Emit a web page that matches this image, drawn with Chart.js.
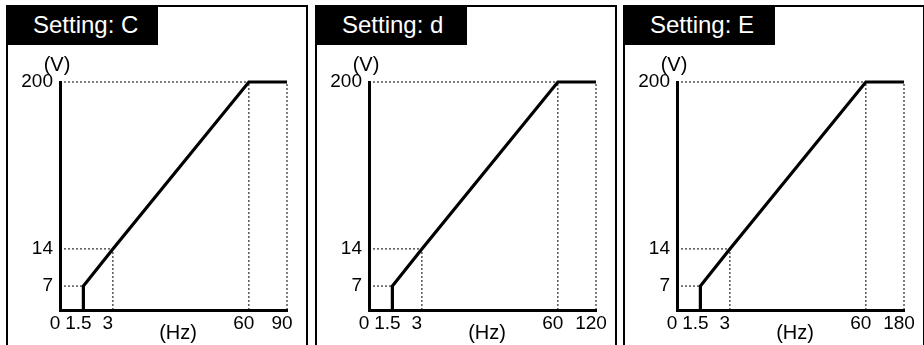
<!DOCTYPE html>
<html>
<head>
<meta charset="utf-8">
<script src="https://cdn.jsdelivr.net/npm/chart.js@4.4.1/dist/chart.umd.min.js"></script>
<style>
  body { margin: 0; width: 924px; height: 345px; overflow: hidden; background: #fff;
         font-family: "Liberation Sans", Arial, sans-serif; }
  .panel { position: absolute; top: 5px; width: 298px; height: 345px;
           border: 2px solid #000; border-bottom: none; }
  .tag { position: absolute; left: -2px; top: -2px; width: 152px; height: 40px;
         background: #000; color: #fff; font-size: 24px; line-height: 40px;
         padding-left: 27px; box-sizing: border-box; white-space: nowrap; }
  .panel canvas { position: absolute; left: 0; top: 39px; }
</style>
</head>
<body>
<div class="panel" style="left:6px"><div class="tag" id="tag0"></div><canvas id="c0" width="297" height="299"></canvas></div>
<div class="panel" style="left:315px"><div class="tag" id="tag1"></div><canvas id="c1" width="297" height="299"></canvas></div>
<div class="panel" style="left:623px"><div class="tag" id="tag2"></div><canvas id="c2" width="297" height="299"></canvas></div>
<script>
// dades de les tres corbes V/f
const settings = ['C', 'd', 'E'];
const maxHz = [90, 120, 180];
const curveHz = [1.5, 1.5, 3, 60];
const curveV = [0, 7, 14, 200];
const freqTicks = [0, 1.5, 3, 60];
const voltTicks = [7, 14, 200];
const voltBreaks = [0, 7, 14, 200];

// eix esquemàtic (no proporcional): on cau cada valor de tall, de 0 a 1
const hzStops = [0, 0.103, 0.233, 0.832, 1];
const vStops = [0, 0.105, 0.268, 1];

const FONT = '"Liberation Sans", Arial, sans-serif';

function toDecimal(v, breaks, stops) {
  for (let i = 1; i < breaks.length; i++) {
    if (v <= breaks[i]) {
      return stops[i - 1] + (v - breaks[i - 1]) / (breaks[i] - breaks[i - 1]) * (stops[i] - stops[i - 1]);
    }
  }
  return 1;
}

class SchematicScale extends Chart.LinearScale {
  getPixelForValue(v) {
    const breaks = this.axis === 'y' ? voltBreaks : freqTicks.concat(this.max);
    const stops = this.axis === 'y' ? vStops : hzStops;
    return this.getPixelForDecimal(toDecimal(v, breaks, stops));
  }
}
SchematicScale.id = 'schematic';
SchematicScale.defaults = Chart.LinearScale.defaults;
Chart.register(SchematicScale);

// textos d'unitats (V) i (Hz)
const unitLabels = {
  id: 'unitLabels',
  afterDraw(chart) {
    const { ctx, chartArea: a } = chart;
    ctx.save();
    ctx.fillStyle = '#000';
    ctx.font = '20px ' + FONT;
    ctx.textAlign = 'center';
    ctx.textBaseline = 'middle';
    ctx.fillText('(V)', a.left - 3, a.top - 17);
    ctx.fillText('(Hz)', a.left + a.width * 0.52, a.bottom + 23);
    ctx.restore();
  }
};

settings.forEach((s, i) => {
  document.getElementById('tag' + i).textContent = 'Setting: ' + s;
  const top = maxHz[i];

  const curve = curveHz.map((x, k) => ({ x: x, y: curveV[k] })).concat({ x: top, y: 200 });

  // línies guia de punts
  const guides = [];
  curve.slice(1).forEach((p, k) => {
    if (k < 3) guides.push([{ x: 0, y: p.y }, { x: p.x, y: p.y }]);
    if (k > 0) guides.push([{ x: p.x, y: 0 }, { x: p.x, y: p.y }]);
  });

  const datasets = [{
    data: curve, borderColor: '#000', borderWidth: 3.2, pointRadius: 0,
    tension: 0, clip: false, borderJoinStyle: 'miter'
  }].concat(guides.map(g => ({
    data: g, borderColor: '#000', borderWidth: 1, borderDash: [2, 2],
    pointRadius: 0, clip: false
  })));

  const tickFont = { family: FONT, size: 19 };

  new Chart(document.getElementById('c' + i), {
    type: 'line',
    data: { datasets: datasets },
    options: {
      responsive: false,
      animation: false,
      events: [],
      layout: { padding: { top: 36, right: 18, left: 0, bottom: 0 } },
      plugins: { legend: { display: false }, tooltip: { enabled: false } },
      scales: {
        x: {
          type: 'schematic', min: 0, max: top,
          grid: { display: false, drawTicks: false },
          border: { color: '#000', width: 3 },
          afterBuildTicks: sc => { sc.ticks = freqTicks.concat(top).map(v => ({ value: v })); },
          afterFit: sc => { sc.height = 35; },
          ticks: { color: '#000', font: tickFont, padding: 2, autoSkip: false, maxRotation: 0, labelOffset: -5 }
        },
        y: {
          type: 'schematic', min: 0, max: 200,
          grid: { display: false, drawTicks: false },
          border: { color: '#000', width: 3 },
          afterBuildTicks: sc => { sc.ticks = voltTicks.map(v => ({ value: v })); },
          afterFit: sc => { sc.width = 52; },
          ticks: { color: '#000', font: tickFont, padding: 7, autoSkip: false }
        }
      }
    },
    plugins: [unitLabels]
  });
});
</script>
</body>
</html>
